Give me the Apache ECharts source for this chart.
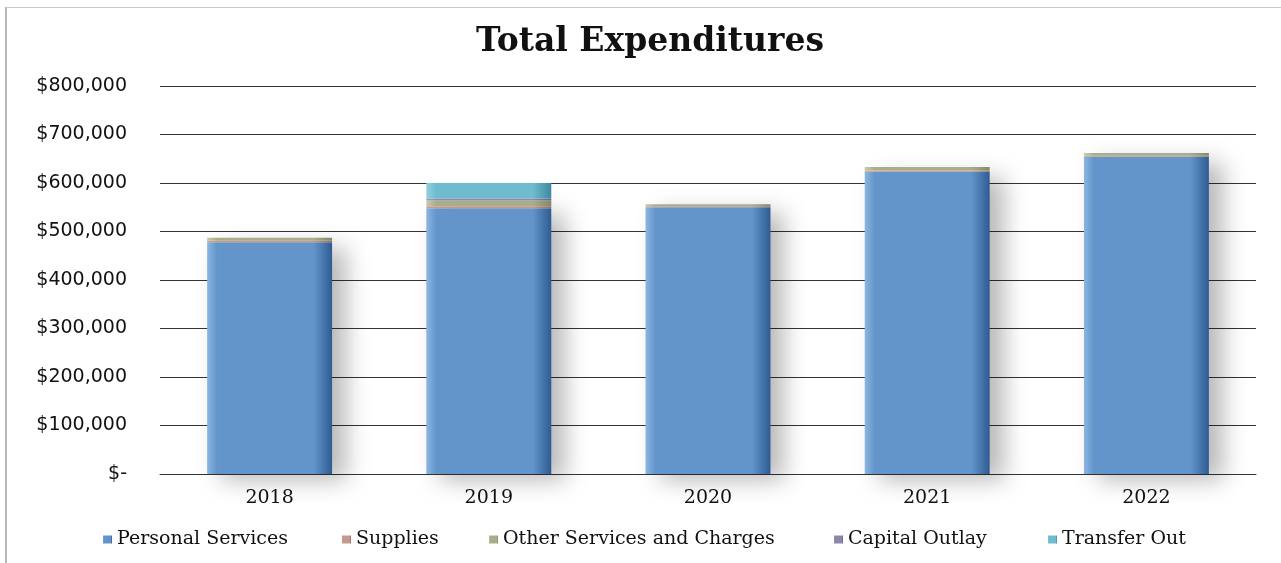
<!DOCTYPE html>
<html>
<head>
<meta charset="utf-8">
<style>
  html, body { margin: 0; padding: 0; background: #ffffff; }
  #frame { position: absolute; left: 5px; top: 7px; width: 1280px; height: 560px;
           border-left: 2px solid #b8b8b8; border-top: 1px solid #c8c8c8; box-sizing: border-box; }
  #chart { position: absolute; left: 0; top: 0; width: 1281px; height: 563px; }
</style>
<script src="https://cdn.jsdelivr.net/npm/echarts@6/dist/echarts.min.js"></script>
</head>
<body>
<div id="frame"></div>
<div id="chart"></div>
<script>
// Fiscal years and expenditure categories
const years = ['2018', '2019', '2020', '2021', '2022'];
const categoryNames = ['Personal Services', 'Supplies', 'Other Services and Charges', 'Capital Outlay', 'Transfer Out'];
const personalServices = [478000, 548000, 550000, 623000, 654000];
const supplies = [3000, 4000, 2000, 3000, 2000];
const otherServices = [6000, 12000, 4000, 7000, 6000];
const capitalOutlay = [0, 4000, 0, 0, 0];
const transferOut = [0, 32000, 0, 0, 0];

// legend entry positions along the bottom row
const legendLeft = [103, 342, 489, 834, 1048];

const chart = echarts.init(document.getElementById('chart'));

function shade(c0, c1, c2) {
  return new echarts.graphic.LinearGradient(0, 0, 1, 0, [
    { offset: 0, color: c0 },
    { offset: 0.08, color: c1 },
    { offset: 0.85, color: c1 },
    { offset: 1, color: c2 }
  ]);
}

const barBase = {
  type: 'bar',
  stack: 'total',
  barCategoryGap: '43%',
  emphasis: { disabled: true }
};

const legends = categoryNames.map((name, i) => ({
  left: legendLeft[i],
  top: 530,
  itemWidth: 9,
  itemHeight: 8,
  itemGap: 0,
  padding: 0,
  icon: 'rect',
  selectedMode: false,
  textStyle: { fontFamily: 'DejaVu Serif', fontSize: 19, color: '#111', padding: [0, 0, 0, 0] },
  data: [name]
}));

chart.setOption({
  animation: false,
  title: {
    text: 'Total Expenditures',
    left: 645,
    textAlign: 'center',
    top: 21,
    textStyle: { fontFamily: 'DejaVu Serif', fontWeight: 'bold', fontSize: 33, color: '#111' }
  },
  legend: legends,
  grid: { left: 160, right: 25, top: 86, bottom: 89 },
  xAxis: {
    type: 'category',
    data: years,
    axisLine: { lineStyle: { color: '#333', width: 1 } },
    axisTick: { show: false },
    axisLabel: { margin: 15, fontFamily: 'DejaVu Serif', fontSize: 19, color: '#111' }
  },
  yAxis: {
    type: 'value',
    min: 0,
    max: 800000,
    interval: 100000,
    axisLabel: {
      margin: 33,
      fontFamily: 'DejaVu Sans',
      fontSize: 19,
      color: '#111',
      formatter: v => v === 0 ? '$-' : '$' + v.toLocaleString('en-US')
    },
    splitLine: { lineStyle: { color: '#333', width: 1 } }
  },
  series: [
    Object.assign({}, barBase, {
      name: categoryNames[0],
      data: personalServices,
      itemStyle: {
        color: shade('#8ab6e2', '#6395cb', '#2e5c92'),
        shadowColor: 'rgba(0,0,0,0.28)',
        shadowBlur: 22,
        shadowOffsetX: 14,
        shadowOffsetY: 6
      }
    }),
    Object.assign({}, barBase, {
      name: categoryNames[1],
      data: supplies,
      itemStyle: { color: shade('#d99a98', '#c49a8c', '#9c6a68') }
    }),
    Object.assign({}, barBase, {
      name: categoryNames[2],
      data: otherServices,
      itemStyle: { color: shade('#c2cfa6', '#a8ae8c', '#7f8a66') }
    }),
    Object.assign({}, barBase, {
      name: categoryNames[3],
      data: capitalOutlay,
      itemStyle: { color: shade('#a99cc4', '#8f85a8', '#6a5e86') }
    }),
    Object.assign({}, barBase, {
      name: categoryNames[4],
      data: transferOut,
      itemStyle: { color: shade('#8fd0e0', '#6fbccf', '#3b8aa0') }
    })
  ]
});
</script>
</body>
</html>
